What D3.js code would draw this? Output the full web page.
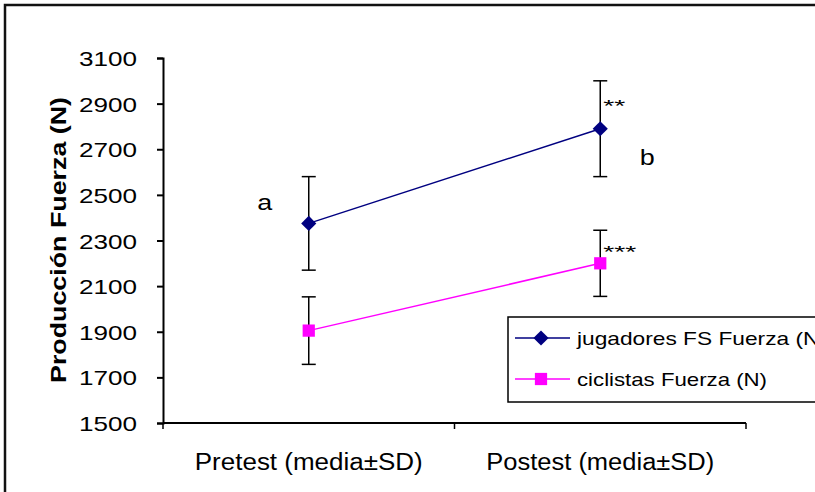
<!DOCTYPE html>
<html>
<head>
<meta charset="utf-8">
<script src="https://cdn.jsdelivr.net/npm/d3@7"></script>
<style>
  body { margin: 0; background: #fff; }
  text { font-family: "Liberation Sans", Arial, sans-serif; }
</style>
</head>
<body>
<script>
// chart values
var categories = ["Pretest (media\u00b1SD)", "Postest (media\u00b1SD)"];
var seriesNames = ["jugadores FS Fuerza (N)", "ciclistas Fuerza (N)"];
var jugadoresMean = [2375, 2790];
var jugadoresSD = [205, 210];
var ciclistasMean = [1905, 2200];
var ciclistasSD = [148, 145];
var yTicks = [1500, 1700, 1900, 2100, 2300, 2500, 2700, 2900, 3100];
var notes = [
  {text: "a", cat: 0, value: 2432, dx: -44},
  {text: "b", cat: 1, value: 2632, dx: 47},
  {text: "**", cat: 1, value: 2862, dx: 3},
  {text: "***", cat: 1, value: 2222, dx: 3}
];

var W = 815, H = 492;
var margin = {top: 58, right: 69, bottom: 69, left: 163},
    width = W - margin.left - margin.right,
    height = H - margin.top - margin.bottom;

var svg = d3.select("body").append("svg")
    .attr("width", W)
    .attr("height", H);

// outer frame (cropped on right/bottom)
svg.append("rect")
    .attr("x", 5).attr("y", 5)
    .attr("width", W + 10).attr("height", H + 10)
    .attr("fill", "none").attr("stroke", "#111").attr("stroke-width", 2.5);

var g = svg.append("g")
    .attr("transform", "translate(" + margin.left + "," + margin.top + ")");

var x = d3.scaleBand().domain(categories).range([0, width]);
var y = d3.scaleLinear().domain([1500, 3100]).range([height, 0]);
var cx = function(i) { return x(categories[i]) + x.bandwidth() / 2; };

// y axis
var yAxis = g.append("g")
    .call(d3.axisLeft(y).tickValues(yTicks).tickSize(6).tickPadding(20).tickFormat(d3.format("d")));
yAxis.selectAll("text")
    .attr("font-size", 21).attr("font-family", "Liberation Sans, Arial").attr("fill", "#000")
    .attr("dy", "0.36em")
    .attr("textLength", 58).attr("lengthAdjust", "spacingAndGlyphs");
yAxis.selectAll("line, path").attr("stroke", "#000").attr("stroke-width", 2);

// x axis
var xAxis = g.append("g")
    .attr("transform", "translate(0," + height + ")")
    .call(d3.axisBottom(x).tickSize(0).tickPadding(31));
xAxis.select("path").remove();
xAxis.selectAll("text")
    .attr("font-size", 23).attr("font-family", "Liberation Sans, Arial").attr("fill", "#000")
    .attr("textLength", 228).attr("lengthAdjust", "spacingAndGlyphs");
g.append("line")
    .attr("x1", 0).attr("x2", width).attr("y1", height).attr("y2", height)
    .attr("stroke", "#000").attr("stroke-width", 2);
[0, width / 2, width].forEach(function(t) {
  g.append("line")
      .attr("x1", t).attr("x2", t).attr("y1", height).attr("y2", height + 6)
      .attr("stroke", "#000").attr("stroke-width", 1.5);
});

// y title
svg.append("text")
    .attr("transform", "translate(" + 66 + "," + 240 + ") rotate(-90)")
    .attr("text-anchor", "middle")
    .attr("font-size", 22).attr("font-weight", "bold")
    .attr("textLength", 286).attr("lengthAdjust", "spacingAndGlyphs")
    .text("Producción Fuerza (N)");

var series = [
  {mean: jugadoresMean, sd: jugadoresSD, color: "#000080", shape: "diamond"},
  {mean: ciclistasMean, sd: ciclistasSD, color: "#ff00ff", shape: "square"}
];

function marker(sel, s) {
  sel.attr("d", d3.symbol().type(d3.symbolSquare).size(s.shape === "diamond" ? 115 : 150))
     .attr("fill", s.color);
}

var line = d3.line()
    .x(function(d, i) { return cx(i); })
    .y(function(d) { return y(d); });

series.forEach(function(s) {
  // error bars
  s.mean.forEach(function(m, i) {
    var xx = cx(i);
    g.append("line").attr("x1", xx).attr("x2", xx)
        .attr("y1", y(m - s.sd[i])).attr("y2", y(m + s.sd[i]))
        .attr("stroke", "#000").attr("stroke-width", 1.5);
    [m - s.sd[i], m + s.sd[i]].forEach(function(v) {
      g.append("line").attr("x1", xx - 7).attr("x2", xx + 7)
          .attr("y1", y(v)).attr("y2", y(v))
          .attr("stroke", "#000").attr("stroke-width", 1.5);
    });
  });
  g.append("path")
      .datum(s.mean)
      .attr("fill", "none")
      .attr("stroke", s.color)
      .attr("stroke-width", 1.5)
      .attr("d", line);
  g.selectAll(null).data(s.mean).enter().append("path")
      .attr("transform", function(d, i) {
        return "translate(" + cx(i) + "," + y(d) + ")" + (s.shape === "diamond" ? " rotate(45)" : "");
      })
      .call(marker, s);
});

// annotations
notes.forEach(function(n) {
  var t = g.append("text")
      .attr("x", cx(n.cat) + n.dx)
      .attr("y", y(n.value))
      .attr("font-size", n.text.length > 1 ? 17 : 22)
      .attr("text-anchor", n.text.length > 1 ? "start" : "middle")
      .text(n.text);
  if (n.text.length > 1) t.attr("textLength", n.text.length * 11).attr("lengthAdjust", "spacingAndGlyphs");
  else t.attr("textLength", 15).attr("lengthAdjust", "spacingAndGlyphs");
});

// legend
var lg = svg.append("g").attr("transform", "translate(508,317)");
lg.append("rect")
    .attr("width", 330).attr("height", 85)
    .attr("fill", "#fff").attr("stroke", "#000").attr("stroke-width", 1.5);
var legendLen = [250, 190];
series.forEach(function(s, i) {
  var yy = 21 + i * 41;
  lg.append("line").attr("x1", 7).attr("x2", 62).attr("y1", yy).attr("y2", yy)
      .attr("stroke", s.color).attr("stroke-width", 1.5);
  lg.append("path")
      .attr("transform", "translate(33," + yy + ")" + (s.shape === "diamond" ? " rotate(45)" : ""))
      .call(marker, s);
  lg.append("text")
      .attr("x", 69).attr("y", yy + 7)
      .attr("font-size", 19)
      .attr("textLength", legendLen[i]).attr("lengthAdjust", "spacingAndGlyphs")
      .text(seriesNames[i]);
});
</script>
</body>
</html>
